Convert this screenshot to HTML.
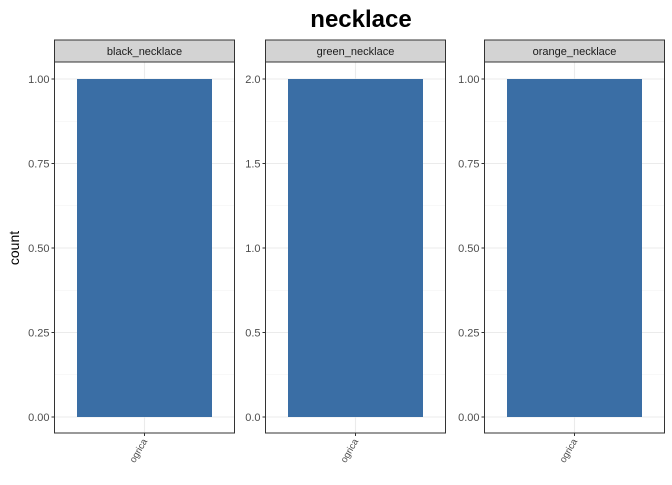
<!DOCTYPE html>
<html><head><style>body{margin:0;background:#fff}svg{font-family:"Liberation Sans",Arial,sans-serif}</style></head>
<body>
<svg id="c" width="672" height="480"></svg>
<script>
const panels=["black_necklace","green_necklace","orange_necklace"];
const categories=["ogrica"];
const values=[1,2,1];
const yMaxes=[1,2,1];
const tickSets=[[0,0.25,0.5,0.75,1],[0,0.5,1,1.5,2],[0,0.25,0.5,0.75,1]];
const tickLabelSets=[["0.00","0.25","0.50","0.75","1.00"],["0.0","0.5","1.0","1.5","2.0"],["0.00","0.25","0.50","0.75","1.00"]];
const NS="http://www.w3.org/2000/svg";
const svg=document.getElementById('c');
function mk(t,a,p){const e=document.createElementNS(NS,t);for(const k in a)e.setAttribute(k,a[k]);(p||svg).appendChild(e);return e;}
const lefts=[54.5,265.5,484.5],W=180,top0=62,bot=433,y0=417,y1=79;
const title=mk('text',{x:361,y:27,'text-anchor':'middle','font-size':24,'font-weight':'bold',fill:'#000'});
title.textContent='necklace';


const yl=mk('text',{x:19,y:248,'text-anchor':'middle','font-size':14,transform:'rotate(-90 19 248)',fill:'#000'});
yl.textContent='count';


panels.forEach((p,i)=>{
  const L=lefts[i];
  const ys=v=>y0-(v/yMaxes[i])*(y0-y1);
  const xc=L+W/2;
  const g=mk('g',{});
  
  
  for(let k=0;k<tickSets[i].length-1;k++){const v=(tickSets[i][k]+tickSets[i][k+1])/2;mk('line',{x1:L,x2:L+W,y1:ys(v),y2:ys(v),stroke:'#f2f2f2','stroke-width':0.6},g);}
  tickSets[i].forEach((v,k)=>{
    mk('line',{x1:L,x2:L+W,y1:ys(v),y2:ys(v),stroke:'#ebebeb','stroke-width':1.1},g);
    mk('line',{x1:L-3,x2:L,y1:ys(v),y2:ys(v),stroke:'#333','stroke-width':1},g);
    const t=mk('text',{x:L-5,y:ys(v)+4,'text-anchor':'end','font-size':11,fill:'#4d4d4d'},g);
    t.textContent=tickLabelSets[i][k];
    
    
  });
  mk('line',{x1:xc,x2:xc,y1:top0,y2:bot,stroke:'#ebebeb','stroke-width':1.1},g);
  categories.forEach((c,j)=>{
    const bw=W*0.75;
    const b=mk('rect',{x:xc-bw/2,y:ys(values[i]),width:bw,height:y0-ys(values[i]),fill:'#3a6ea5'},g);
    
    
    mk('line',{x1:xc,x2:xc,y1:bot,y2:bot+3,stroke:'#333'},g);
    const t=mk('text',{x:xc+3,y:bot+8,'text-anchor':'end','font-size':9.5,fill:'#4d4d4d',transform:`rotate(-60 ${xc+3} ${bot+8})`},g);
    t.textContent=c;
    
    
  });
  mk('rect',{x:L,y:top0,width:W,height:bot-top0,fill:'none',stroke:'#333','stroke-width':1},g);
  const s=mk('rect',{x:L,y:40,width:W,height:22,fill:'#d3d3d3',stroke:'#333','stroke-width':1},g);
  
  
  const st=mk('text',{x:xc,y:55,'text-anchor':'middle','font-size':11,fill:'#1a1a1a'},g);
  st.textContent=p;
  
  
});
</script>
</body></html>
